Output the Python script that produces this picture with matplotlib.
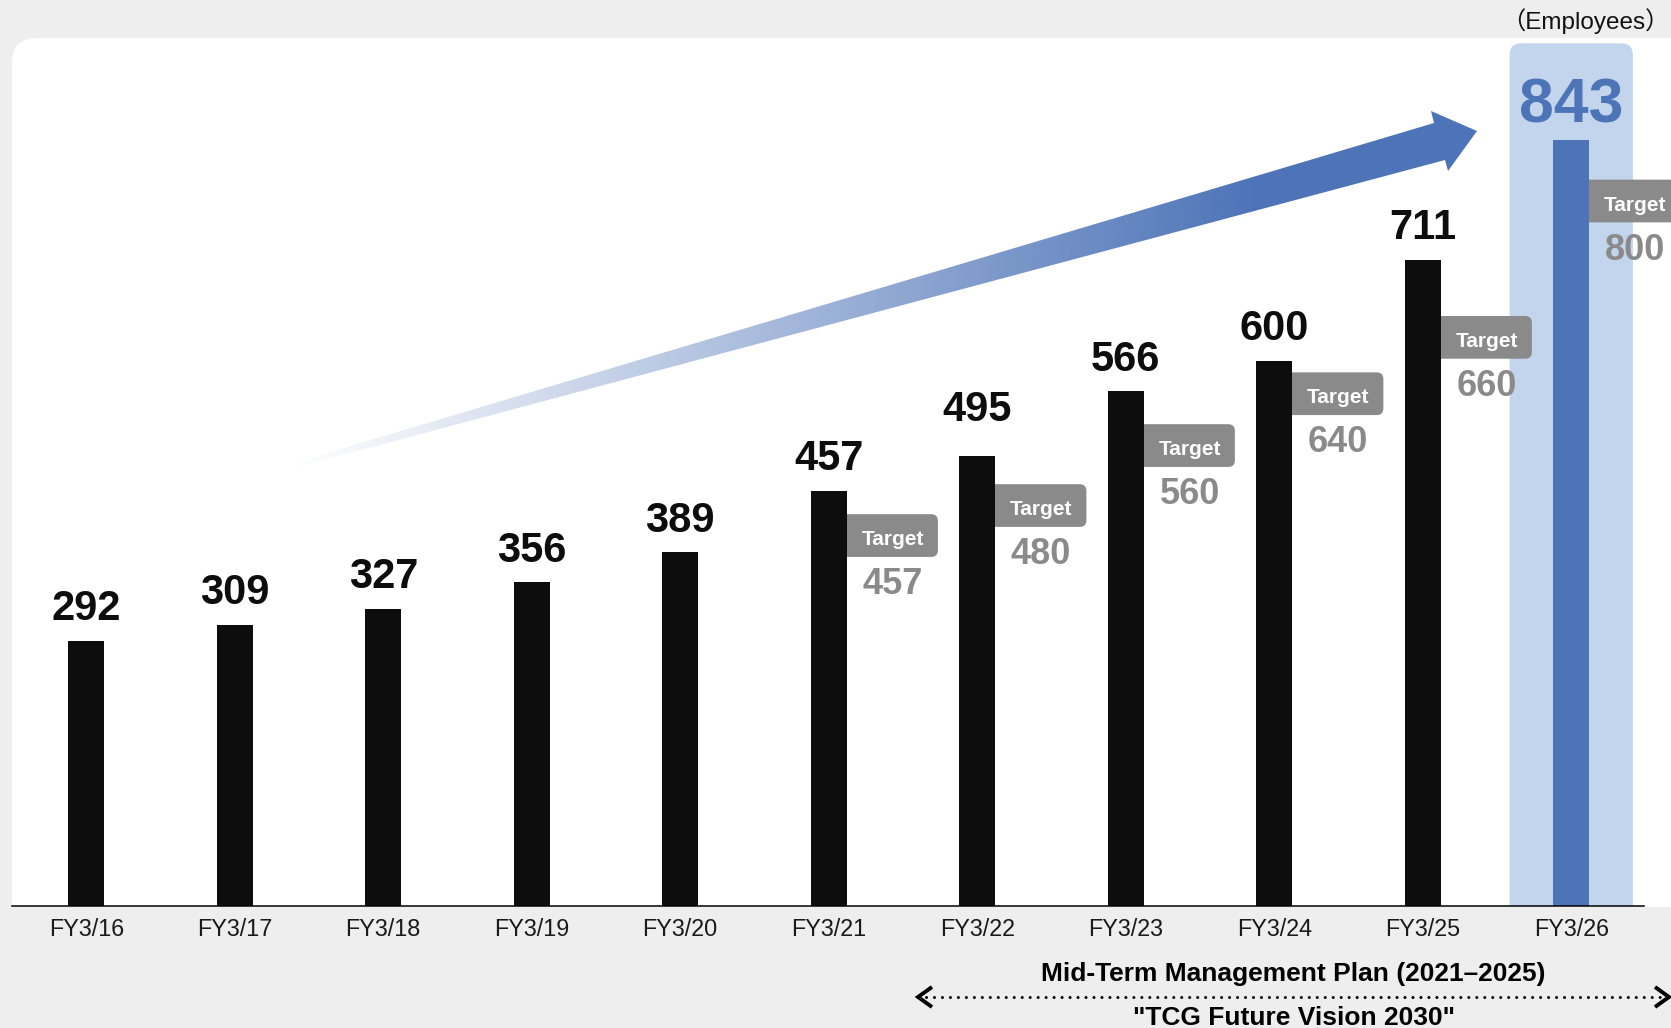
import numpy as np
import matplotlib
matplotlib.use('Agg')
import matplotlib.pyplot as plt
from matplotlib.patches import FancyBboxPatch, Polygon, Rectangle

plt.rcParams['font.family'] = ['Liberation Sans', 'Noto Sans CJK JP', 'DejaVu Sans']

# employees per fiscal year
years = ['FY3/16', 'FY3/17', 'FY3/18', 'FY3/19', 'FY3/20', 'FY3/21',
         'FY3/22', 'FY3/23', 'FY3/24', 'FY3/25', 'FY3/26']
employees = [292, 309, 327, 356, 389, 457, 495, 566, 600, 711, 843]

# mid-term plan targets
target_years = ['FY3/21', 'FY3/22', 'FY3/23', 'FY3/24', 'FY3/25', 'FY3/26']
targets = [457, 480, 560, 640, 660, 800]

# layout only: gap above each bar for its label (points), top edge of each "Target" tag
label_gap = [15, 15, 15, 15, 15, 15, 25, 15, 15, 15, 12]
tag_tops = [431, 464, 530, 587, 649, 799]

BLACK = '#0d0d0d'
BLUE = '#4e74b8'
LIGHT = '#c2d5ec'
GREY = '#8a8a8a'
BG = '#eeeeee'

W, H = 1671, 1028
fig = plt.figure(figsize=(W / 100, H / 100), dpi=100, facecolor=BG)

# background layer in pixel coordinates
bg = fig.add_axes([0, 0, 1, 1], zorder=0)
bg.axis('off')
bg.add_patch(FancyBboxPatch((12, 38), 1750, 1000,
                            boxstyle='round,pad=0,rounding_size=25',
                            fc='white', ec='none', zorder=0.5))
bg.add_patch(Rectangle((0, 907), W, 200, fc=BG, ec='none', zorder=0.6))

# growth arrow with a fading gradient
pts = [(290, 464), (1434, 123), (1431, 111), (1477, 131),
       (1448, 171), (1445, 160), (290, 469)]
poly = Polygon(pts, closed=True, fc='none', ec='none')
bg.add_patch(poly)
xs = np.linspace(290, 1477, 400)
grad = np.zeros((1, len(xs), 4))
grad[..., :3] = matplotlib.colors.to_rgb(BLUE)
grad[0, :, 3] = np.clip((xs - 293) / (1250 - 293), 0, 1)
im = bg.imshow(grad, extent=(290, 1477, 469, 111), aspect='auto',
               interpolation='bilinear', zorder=2)
im.set_clip_path(poly)

# plan span marker
bg.plot([926, 1660], [997, 997], color='black', lw=2.2,
        linestyle=(0, (0.01, 2.6)), dash_capstyle='round', zorder=3)
bg.plot([932, 918, 932], [987, 997, 1007], color='black', lw=2.8,
        solid_joinstyle='miter', solid_capstyle='butt', zorder=3)
bg.plot([1655, 1669, 1655], [987, 997, 1007], color='black', lw=2.8,
        solid_joinstyle='miter', solid_capstyle='butt', zorder=3)
bg.text(1293, 981, 'Mid-Term Management Plan (2021\u20132025)', ha='center',
        va='baseline', fontsize=19, fontweight='bold', color='black')
bg.text(1294, 1025, '"TCG Future Vision 2030"', ha='center',
        va='baseline', fontsize=19, fontweight='bold', color='black')
bg.text(1670, 29, '\uff08Employees\uff09', ha='right', va='baseline',
        fontsize=17.5, color='#111111')

bg.set_xlim(0, W)
bg.set_ylim(H, 0)

# main chart
ax = fig.add_axes([12 / W, 122 / H, 1632 / W, 900 / H], zorder=1)
ax.set_facecolor('none')
x = np.arange(len(years))
colors = [BLACK] * (len(years) - 1) + [BLUE]
ax.bar(x, employees, width=0.24, color=colors, zorder=3)
ax.set_xlim(-0.5, 10.49)
ax.set_ylim(0, 990)

aspect = 148.5 / 0.909
last = len(years) - 1
ax.add_patch(FancyBboxPatch((last - 0.415, -40), 0.83, 989,
                            boxstyle='round,pad=0,rounding_size=0.08',
                            mutation_aspect=aspect, fc=LIGHT, ec='none',
                            zorder=1))

for i, v in enumerate(employees):
    big = i == last
    ax.annotate(str(v), (i, v), xytext=(0, label_gap[i]),
                textcoords='offset points', ha='center', va='baseline',
                fontsize=45 if big else 30, fontweight='bold',
                color=BLUE if big else BLACK)

for yr, t, top in zip(target_years, targets, tag_tops):
    i = years.index(yr)
    ax.add_patch(FancyBboxPatch((i + 0.05, top - 47), 0.685, 47,
                                boxstyle='round,pad=0,rounding_size=0.045',
                                mutation_aspect=aspect, fc=GREY, ec='none',
                                zorder=2, clip_on=False))
    ax.text(i + 0.43, top - 34, 'Target', ha='center', va='baseline',
            fontsize=15, fontweight='bold', color='white', zorder=4)
    ax.text(i + 0.43, top - 88, str(t), ha='center', va='baseline',
            fontsize=26, fontweight='bold', color=GREY, zorder=4)

for s in ['top', 'left', 'right']:
    ax.spines[s].set_visible(False)
ax.spines['bottom'].set_color('black')
ax.spines['bottom'].set_linewidth(1.1)
ax.spines['bottom'].set_zorder(5)
ax.set_yticks([])
ax.set_xticks(x, years)
ax.tick_params(axis='x', length=0, pad=9, labelsize=16.8,
               labelcolor='#1a1a1a')

fig.savefig('out.png', dpi=100, facecolor=BG)
